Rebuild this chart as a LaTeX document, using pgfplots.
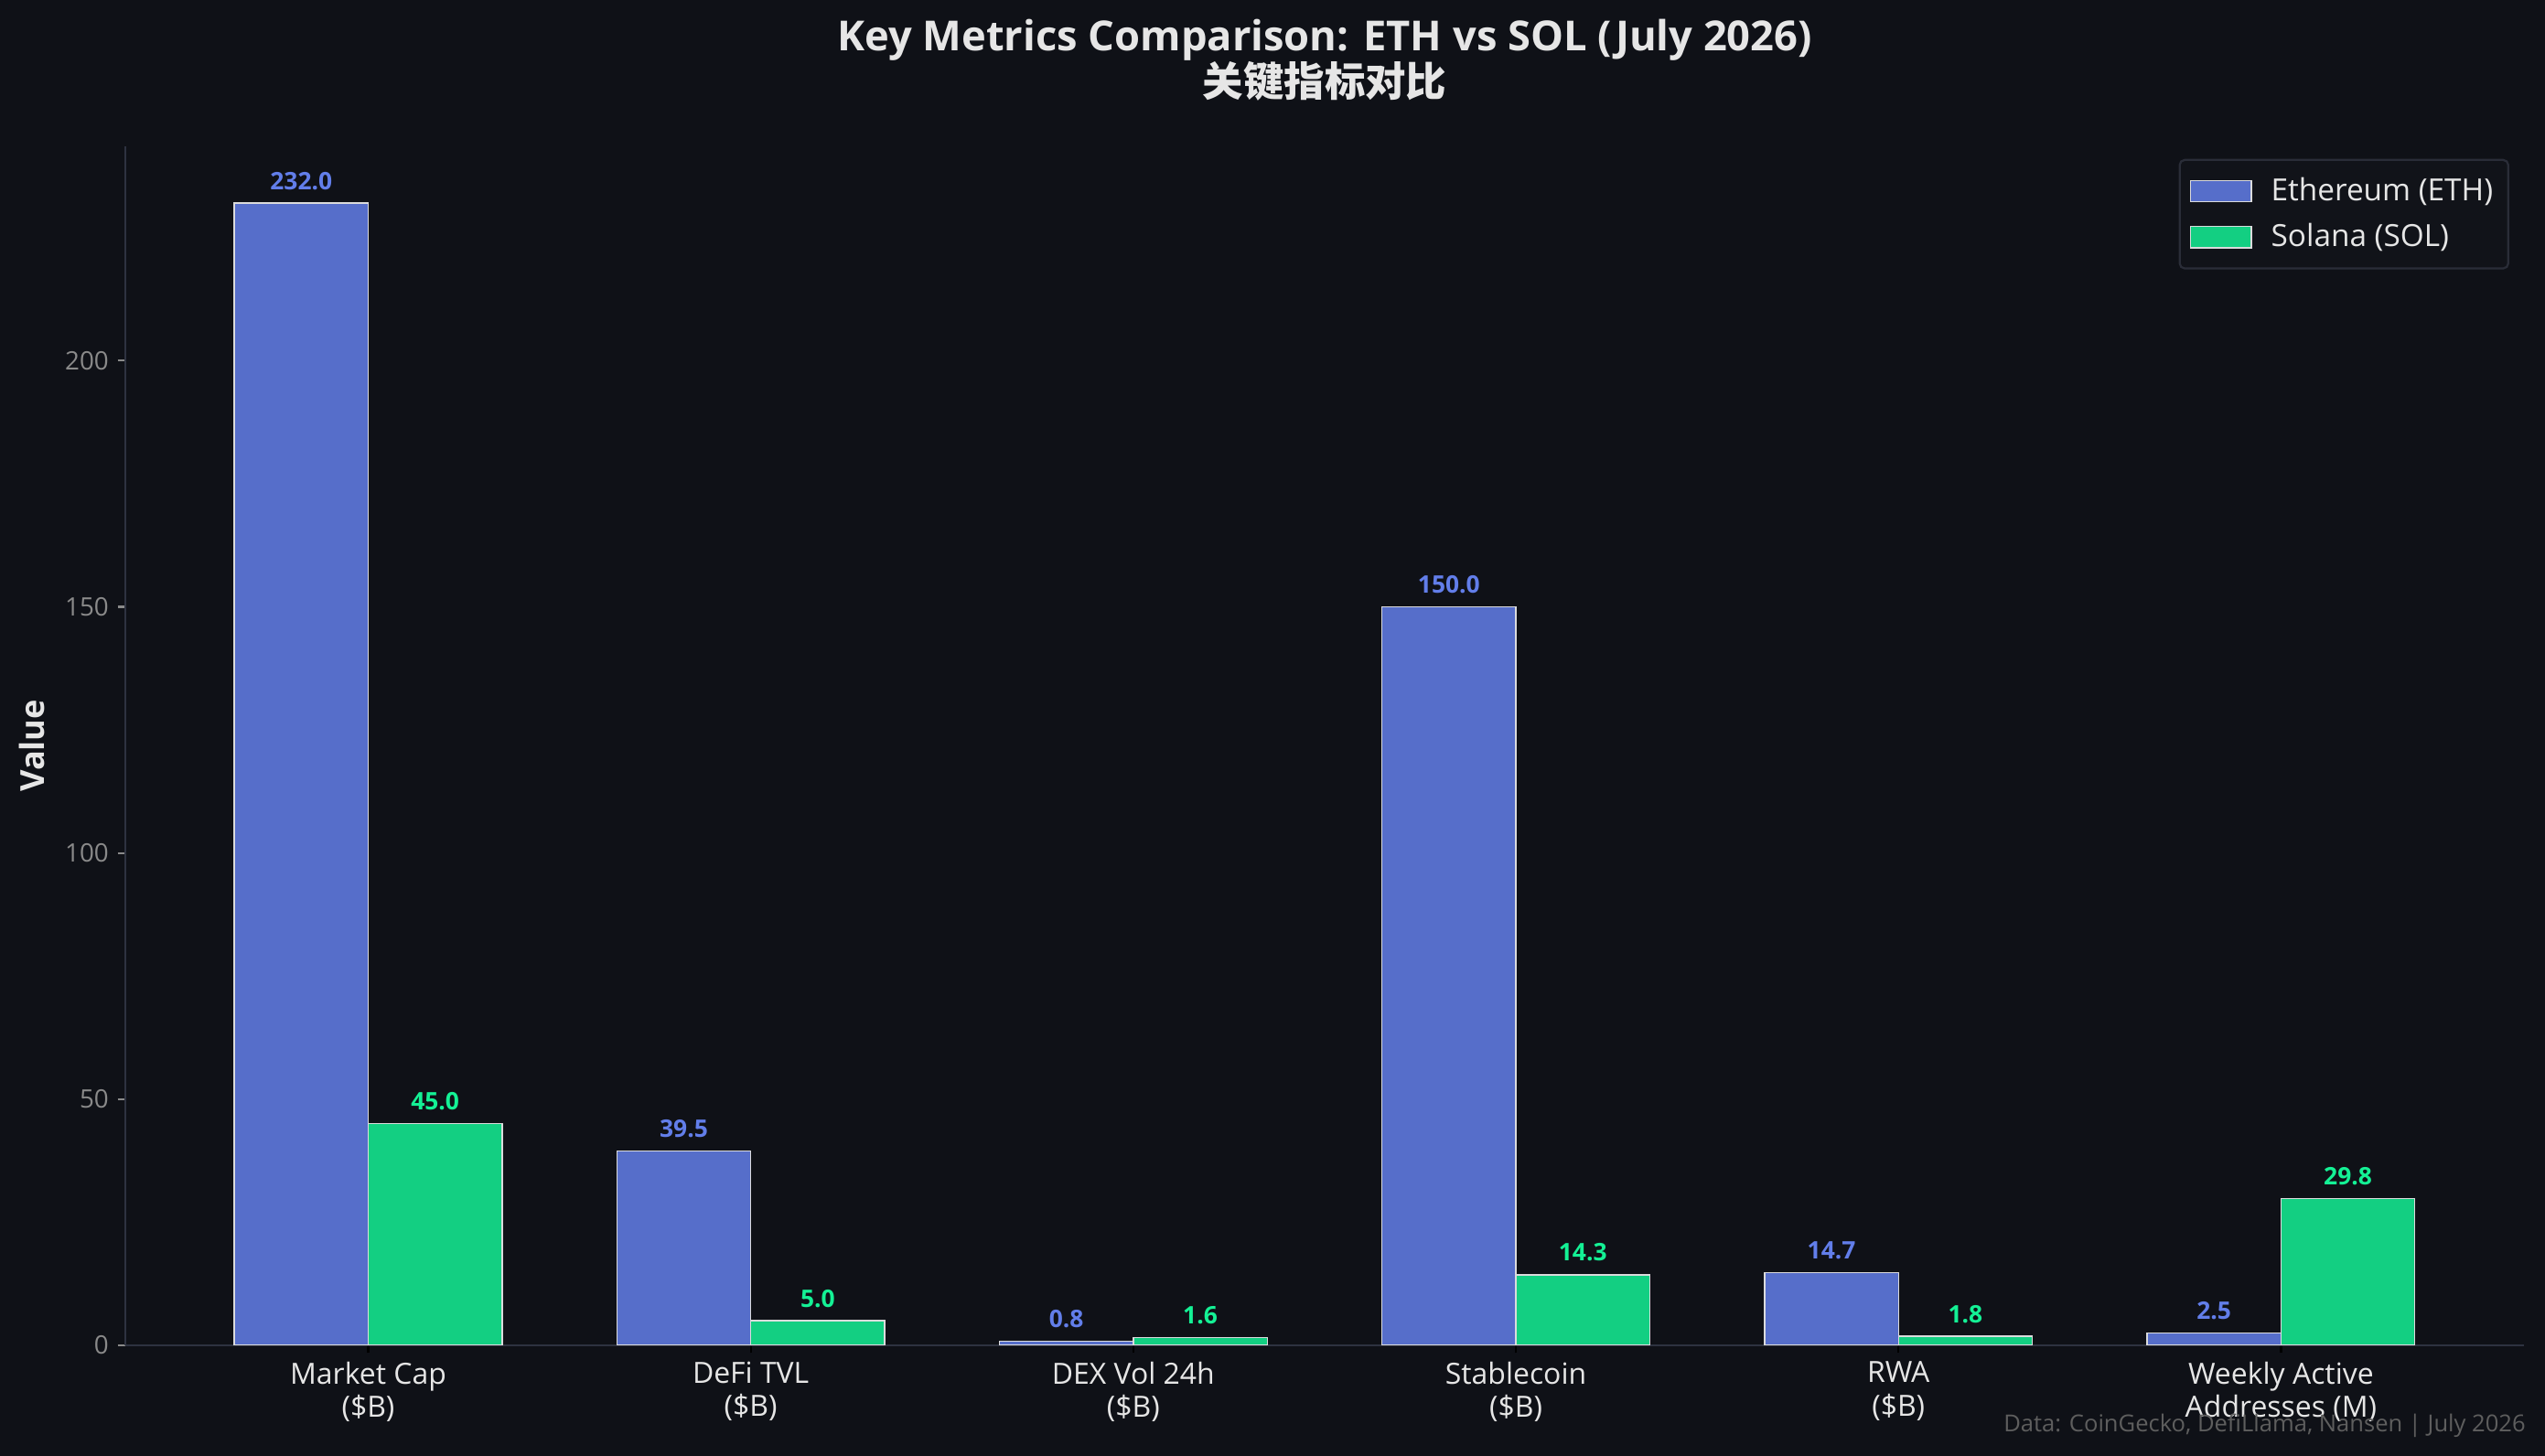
\documentclass[border=0pt]{standalone}
\usepackage{pgfplots}
\pgfplotsset{compat=1.18}
\usepackage{fontspec}
\setmainfont{Open Sans}
\newfontfamily\cjk{Noto Sans CJK SC}
\definecolor{bg}{HTML}{0F1117}
\definecolor{ethfill}{HTML}{566ECA}
\definecolor{solfill}{HTML}{13CF82}
\definecolor{ethtext}{HTML}{627EEA}
\definecolor{soltext}{HTML}{14F195}
\definecolor{spine}{HTML}{2E3240}
\definecolor{ticklab}{HTML}{8A8A8A}
\definecolor{lighttext}{HTML}{E6E6E6}
\definecolor{legframe}{HTML}{2A2D38}
\definecolor{legfill}{HTML}{111319}
\definecolor{srctext}{HTML}{5E5E5E}
\begin{document}
\begin{tikzpicture}[x=1pt,y=1pt]
\fill[bg] (0,0) rectangle (1001.5,573.1);
\useasboundingbox (0,0) rectangle (1001.5,573.1);
\begin{axis}[
  at={(49.3pt,43.6pt)}, anchor=south west,
  scale only axis, width=943.9pt, height=472pt,
  xmin=-0.635, xmax=5.635, ymin=0, ymax=243.6,
  axis x line*=bottom, axis y line*=left,
  axis line style={spine, line width=0.8pt},
  ybar, bar width=0.35,
  xtick={0,1,2,3,4,5},
  xticklabels={{Market Cap\\(\$B)},{DeFi TVL\\(\$B)},{DEX Vol 24h\\(\$B)},{Stablecoin\\(\$B)},{RWA\\(\$B)},{Weekly Active\\Addresses (M)}},
  xticklabel style={align=center, font=\fontsize{11.5}{13}\selectfont, text=lighttext},
  ytick={0,50,100,150,200},
  yticklabel style={font=\fontsize{10}{12}\selectfont, text=ticklab},
  /pgf/number format/assume math mode=true,
  tick align=outside,
  major tick length=3pt,
  xtick style={black, line width=0.8pt},
  ytick style={ticklab, line width=0.8pt},
  ylabel={Value},
  ylabel style={at={(axis description cs:-0.0389,0.5)}, anchor=center, font=\bfseries\fontsize{13}{15}\selectfont, text=lighttext},
  legend style={at={(axis description cs:0.9939,0.9893)}, anchor=north east,
    fill=legfill, draw=legframe, rounded corners=2pt, line width=0.8pt,
    font=\fontsize{12}{14}\selectfont, text=lighttext,
    inner xsep=4pt, inner ysep=5pt, row sep=3.5pt},
  legend cell align=left,
  legend image code/.code={\draw[#1, sharp corners] (0pt,-4.2pt) rectangle (24pt,4.2pt); \path (29.5pt,0pt);},
  nodes near coords={\pgfmathprintnumber[fixed,fixed zerofill,precision=1,assume math mode=true]{\pgfplotspointmeta}},
]
\addplot[fill=ethfill, draw=white!85!bg, line width=0.5pt, bar shift=-0.175,
  every node near coord/.append style={font=\bfseries\fontsize{9.5}{11}\selectfont, text=ethtext, anchor=south, inner sep=0pt, yshift=5pt}]
  coordinates {(0,232.0) (1,39.5) (2,0.8) (3,150.0) (4,14.7) (5,2.5)};
\addlegendentry{Ethereum (ETH)}
\addplot[fill=solfill, draw=white!85!bg, line width=0.5pt, bar shift=0.175,
  every node near coord/.append style={font=\bfseries\fontsize{9.5}{11}\selectfont, text=soltext, anchor=south, inner sep=0pt, yshift=5pt}]
  coordinates {(0,45.0) (1,5.0) (2,1.6) (3,14.3) (4,1.8) (5,29.8)};
\addlegendentry{Solana (SOL)}
\end{axis}
\node[anchor=base, font=\bfseries\fontsize{16.3}{19}\selectfont, text=lighttext] at (521.3,553) {Key Metrics Comparison: ETH vs SOL (July 2026)};
\node[anchor=base, font=\cjk\bfseries\fontsize{16}{19}\selectfont, text=lighttext] at (521.3,535) {关键指标对比};
\node[anchor=base east, font=\fontsize{9.2}{11}\selectfont, text=srctext, inner sep=0pt] at (994,9.4) {Data: CoinGecko, DefiLlama, Nansen | July 2026};
\end{tikzpicture}
\end{document}
